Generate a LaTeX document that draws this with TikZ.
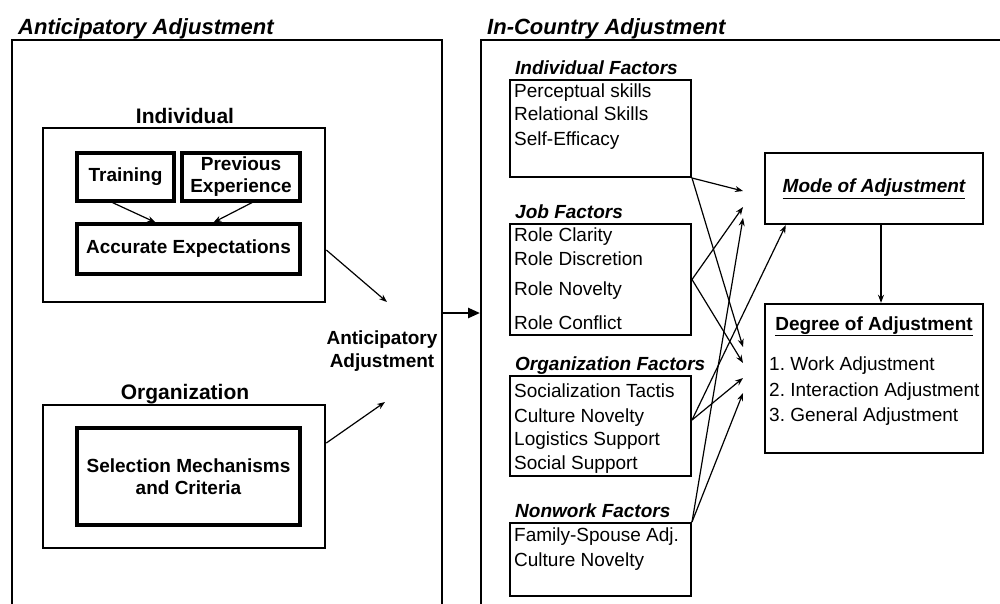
\documentclass[tikz,border=0pt]{standalone}
\usepackage{fontspec}
\setmainfont{Liberation Sans}
\usetikzlibrary{arrows.meta}
\frenchspacing
\begin{document}
\begin{tikzpicture}[x=1pt,y=-1pt,
  txt/.style={font=\fontsize{19}{23}\selectfont, inner sep=0pt},
  ttl/.style={font=\fontsize{22}{26}\selectfont\bfseries\itshape, inner sep=0pt, anchor=base west},
  grp/.style={font=\fontsize{21}{25}\selectfont\bfseries, inner sep=0pt, anchor=base},
  fhdr/.style={font=\fontsize{19}{23}\selectfont\bfseries\itshape, inner sep=0pt, anchor=base west},
  item/.style={txt, anchor=base west},
  bigbox/.style={draw, line width=2pt, inner sep=0pt},
  midbox/.style={draw, line width=2.6pt, inner sep=0pt},
  inbox/.style={draw, line width=3.2pt, inner sep=0pt, font=\fontsize{19}{22}\selectfont\bfseries, align=center},
  fbox/.style={draw, line width=2pt, inner sep=0pt, minimum width=181pt},
  rbox/.style={draw, line width=2.4pt, inner sep=0pt, minimum width=218pt},
  conn/.style={line width=1.2pt, -{Stealth[length=8pt,width=6pt]}},
  bigarrow/.style={line width=2.5pt, -{Triangle[length=12pt,width=10pt]}}]
\useasboundingbox (0,0) rectangle (1000,603);

% outer frames
\node[bigbox, minimum width=430pt, minimum height=610pt] (leftbox) at (227,345) {};
\node[bigbox, minimum width=579pt, minimum height=610pt] (rightbox) at (770.5,345) {};
\node[ttl] (ttlA) at (18,34) {Anticipatory Adjustment};
\node[ttl] (ttlB) at (487,34) {In-Country Adjustment};

% Anticipatory side
\node[grp] (lblind) at (185,123) {Individual};
\node[midbox, minimum width=282pt, minimum height=174pt] (indiv) at (184,215) {};
\node[inbox, minimum width=97pt, minimum height=48pt] (training) at (125.5,177) {Training};
\node[inbox, minimum width=118pt, minimum height=48pt] (prev) at (241,177) {Previous\\Experience};
\node[inbox, minimum width=223pt, minimum height=50pt] (accur) at (188.5,249) {Accurate Expectations};
\draw[conn] ([xshift=-13pt]training.south) -- ([xshift=-33pt]accur.north);
\draw[conn] ([xshift=11pt]prev.south) -- ([xshift=25pt]accur.north);

\node[grp] (lblorg) at (185,399) {Organization};
\node[midbox, minimum width=282pt, minimum height=143pt] (orgbox) at (184,476.5) {};
\node[inbox, minimum width=223pt, minimum height=97pt] (select) at (188.5,476.5) {Selection Mechanisms\\and Criteria};

\node[txt, font=\fontsize{19}{23}\selectfont\bfseries, align=center] (antadj) at (382,351) {Anticipatory\\Adjustment};
\coordinate (aa1) at (387,302);
\coordinate (aa2) at (385,402);
\draw[conn] ([yshift=-35pt]indiv.east) -- (aa1);
\draw[conn] ([yshift=33.5pt]orgbox.east) -- (aa2);

\draw[bigarrow] ([yshift=32pt]leftbox.east) -- ([yshift=32pt]rightbox.west);

% In-country side: factor boxes
\node[fhdr] (hindf) at (515,74) {Individual Factors};
\node[fbox, minimum height=97pt] (indf) at (600.5,128.5) {};
\node[item] (i1) at (514,97) {Perceptual skills};
\node[item] (i2) at (514,120) {Relational Skills};
\node[item] (i3) at (514,145) {Self-Efficacy};

\node[fhdr] (hjob) at (515,218) {Job Factors};
\node[fbox, minimum height=111pt] (job) at (600.5,279.5) {};
\node[item] (j1) at (514,241) {Role Clarity};
\node[item] (j2) at (514,265) {Role Discretion};
\node[item] (j3) at (514,295) {Role Novelty};
\node[item] (j4) at (514,329) {Role Conflict};

\node[fhdr] (horg) at (515,370) {Organization Factors};
\node[fbox, minimum height=100pt] (orgf) at (600.5,426) {};
\node[item] (o1) at (514,397) {Socialization Tactis};
\node[item] (o2) at (514,422) {Culture Novelty};
\node[item] (o3) at (514,445) {Logistics Support};
\node[item] (o4) at (514,469) {Social Support};

\node[fhdr] (hnon) at (515,517) {Nonwork Factors};
\node[fbox, minimum height=73pt] (nonw) at (600.5,559.5) {};
\node[item] (n1) at (514,541) {Family-Spouse Adj.};
\node[item] (n2) at (514,566) {Culture Novelty};

% outcome boxes
\node[rbox, minimum height=71pt, font=\fontsize{19}{23}\selectfont\bfseries\itshape] (mode) at (874,188.5) {\underline{Mode of Adjustment}};
\node[rbox, minimum height=149pt] (degree) at (874,378.5) {};
\node[txt, font=\fontsize{19}{23}\selectfont\bfseries, anchor=base] (dtitle) at (874,330) {\underline{Degree of Adjustment}};
\node[item] (d1) at (769,370) {1. Work Adjustment};
\node[item] (d2) at (769,396) {2. Interaction Adjustment};
\node[item] (d3) at (769,421) {3. General Adjustment};
\draw[conn] ([xshift=7pt]mode.south) -- ([xshift=7pt]degree.north);

% connector ends
\coordinate (m1) at (743,191);
\coordinate (m2) at (743,207);
\coordinate (m3) at (743,218);
\coordinate (g1) at (743,347);
\coordinate (g2) at (743,363);
\coordinate (g3) at (743,378);
\coordinate (g4) at (743,393);

\draw[conn] (indf.south east) -- (m1);
\draw[conn] (indf.south east) -- (g1);
\draw[conn] (job.east) -- (m2);
\draw[conn] (job.east) -- (g2);
\draw[conn] ([yshift=6pt]orgf.east) -- ([xshift=22pt]mode.south west);
\draw[conn] ([yshift=6pt]orgf.east) -- (g3);
\draw[conn] (nonw.north east) -- (m3);
\draw[conn] (nonw.north east) -- (g4);
\end{tikzpicture}
\end{document}
